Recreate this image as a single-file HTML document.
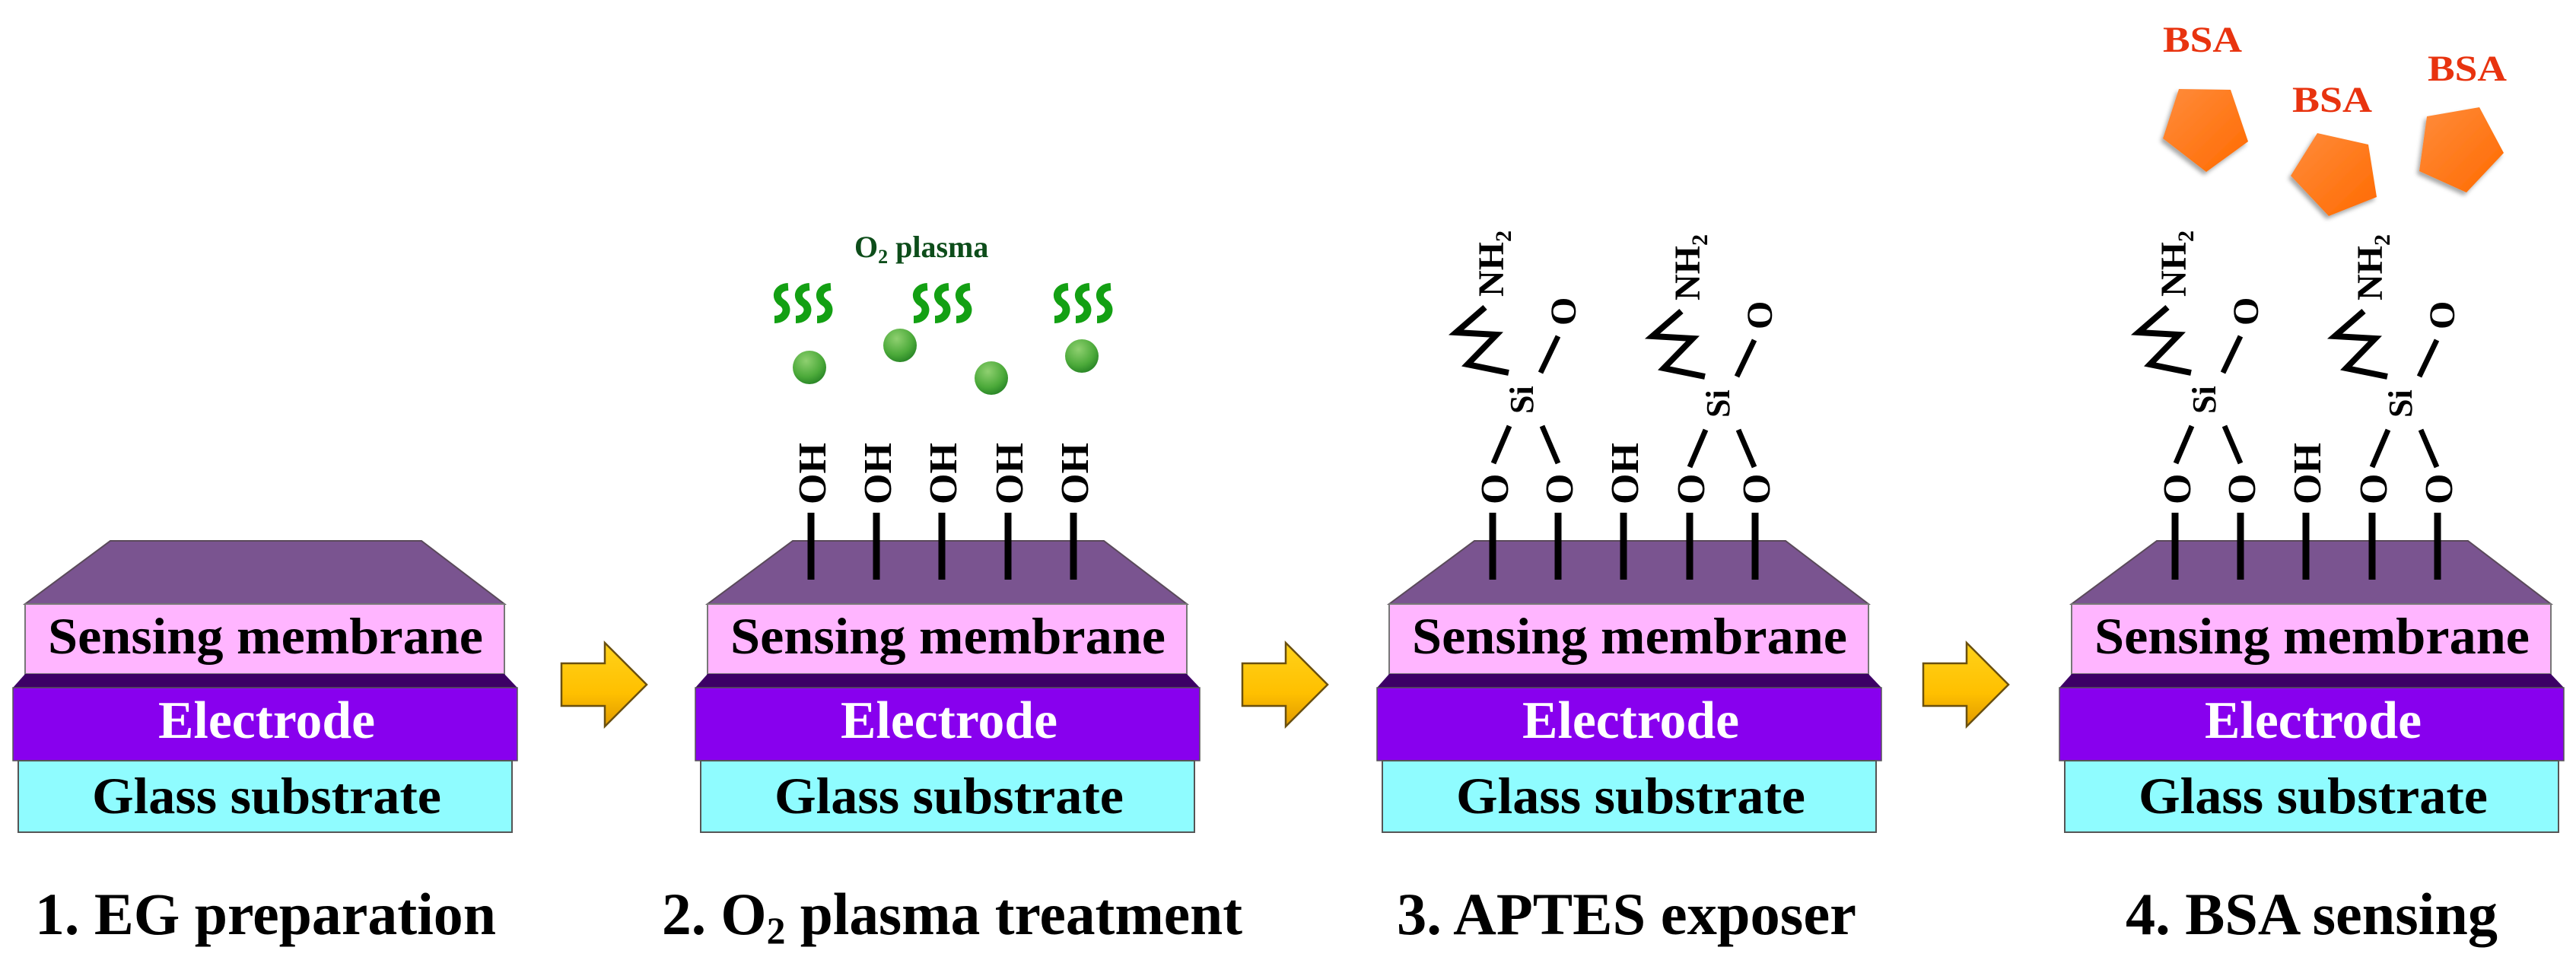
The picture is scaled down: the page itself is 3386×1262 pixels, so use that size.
<!DOCTYPE html>
<html><head><meta charset="utf-8"><style>
html,body{margin:0;padding:0;background:#fff;}
svg{display:block;}
svg text{font-family:"Liberation Serif","Times New Roman","DejaVu Serif",serif;font-weight:bold;}
</style></head><body>
<svg width="3386" height="1262" viewBox="0 0 3386 1262" xmlns="http://www.w3.org/2000/svg" font-family="Liberation Serif, Times New Roman, DejaVu Serif, serif" font-weight="bold">
<defs>
<linearGradient id="ar" x1="0" y1="0" x2="0" y2="1"><stop offset="0" stop-color="#ffd21a"/><stop offset="0.6" stop-color="#ffc000"/><stop offset="1" stop-color="#e09a00"/></linearGradient>
<radialGradient id="gb" cx="0.4" cy="0.3" r="0.8"><stop offset="0" stop-color="#8fd070"/><stop offset="0.6" stop-color="#4caa3a"/><stop offset="1" stop-color="#1e7a20"/></radialGradient>
<linearGradient id="og" x1="0" y1="0" x2="1" y2="1"><stop offset="0" stop-color="#ff8c3c"/><stop offset="1" stop-color="#ff6a00"/></linearGradient>
<filter id="sh" x="-20%" y="-20%" width="150%" height="150%"><feDropShadow dx="-3" dy="4" stdDeviation="3" flood-color="#000" flood-opacity="0.35"/></filter>
<g id="stack">
<polygon points="145,711 554,711 663,794 33,794" fill="#7a5490" stroke="#5a4a5a" stroke-width="2"/>
<rect x="33" y="794" width="630" height="92" fill="#ffb5ff" stroke="#777" stroke-width="2"/>
<polygon points="33,886 663,886 680,904 17,904" fill="#3d0066"/>
<rect x="17" y="904" width="663" height="96" fill="#8800ee" stroke="#555" stroke-width="1.5"/>
<rect x="24" y="1000" width="649" height="94" fill="#8ffcff" stroke="#555" stroke-width="2"/>
<text x="63" y="859" font-size="68" textLength="572" lengthAdjust="spacingAndGlyphs">Sensing membrane</text>
<text x="208" y="970" font-size="70" fill="#fff" textLength="285" lengthAdjust="spacingAndGlyphs">Electrode</text>
<text x="121" y="1069" font-size="68" textLength="459" lengthAdjust="spacingAndGlyphs">Glass substrate</text>
</g>
<g id="arrow"><polygon points="738,872 795,872 795,845 850,900 795,955 795,928 738,928" fill="url(#ar)" stroke="#6a5010" stroke-width="2.5"/></g>
<g id="sticks" stroke="#000" stroke-width="9">
<line x1="169" y1="674" x2="169" y2="762"/><line x1="255" y1="674" x2="255" y2="762"/><line x1="341" y1="674" x2="341" y2="762"/><line x1="428" y1="674" x2="428" y2="762"/><line x1="514" y1="674" x2="514" y2="762"/>
</g>
<g id="mol">
<g stroke="#000" stroke-width="7" fill="none" stroke-linecap="butt">
<line x1="170" y1="609" x2="191" y2="560"/><line x1="255" y1="609" x2="234" y2="560"/>
<line x1="232" y1="490" x2="255" y2="442"/>
<polyline points="190,490 136,479 174,440 121,437 159,404" stroke-width="8"/>
</g>
<text transform="translate(222,544) rotate(-90)" font-size="44">Si</text>
<text transform="translate(278,428) rotate(-90)" font-size="48">O</text>
<text transform="translate(183,390) rotate(-90)" font-size="48">NH<tspan font-size="30" dy="10">2</tspan></text>
</g>
<path id="sq" d="M1036,377 C1020,378 1018,392 1028,398 C1038,404 1034,420 1018,420" fill="none" stroke="#13a013" stroke-width="10"/>
</defs>

<use href="#stack"/>
<use href="#stack" x="897"/>
<use href="#stack" x="1793"/>
<use href="#stack" x="2690"/>

<use href="#arrow"/>
<use href="#arrow" x="895"/>
<use href="#arrow" x="1790"/>

<!-- Stack 2 -->
<use href="#sticks" x="897"/>
<g font-size="52">
<text transform="translate(1085,663) rotate(-90)">OH</text>
<text transform="translate(1171,663) rotate(-90)">OH</text>
<text transform="translate(1257,663) rotate(-90)">OH</text>
<text transform="translate(1344,663) rotate(-90)">OH</text>
<text transform="translate(1430,663) rotate(-90)">OH</text>
</g>
<circle cx="1064" cy="483" r="22" fill="url(#gb)"/>
<circle cx="1183" cy="454" r="22" fill="url(#gb)"/>
<circle cx="1303" cy="497" r="22" fill="url(#gb)"/>
<circle cx="1422" cy="468" r="22" fill="url(#gb)"/>
<use href="#sq"/><use href="#sq" x="28"/><use href="#sq" x="56"/>
<use href="#sq" x="183"/><use href="#sq" x="211"/><use href="#sq" x="239"/>
<use href="#sq" x="368"/><use href="#sq" x="396"/><use href="#sq" x="424"/>
<text x="1123" y="338" font-size="40" fill="#0d4d1a">O<tspan font-size="26" dy="8">2</tspan><tspan dy="-8"> plasma</tspan></text>

<!-- Stack 3 & 4 -->
<g id="s3">
<use href="#sticks" x="1793"/>
<g font-size="52">
<text transform="translate(1982,663) rotate(-90)">O</text>
<text transform="translate(2067,663) rotate(-90)">O</text>
<text transform="translate(2153,663) rotate(-90)">OH</text>
<text transform="translate(2240,663) rotate(-90)">O</text>
<text transform="translate(2326,663) rotate(-90)">O</text>
</g>
<use href="#mol" x="1793"/>
<use href="#mol" x="2051" y="5"/>
</g>
<use href="#s3" x="897"/>

<!-- BSA -->
<g filter="url(#sh)" fill="url(#og)">
<polygon points="2864,117 2932,118 2955,186 2900,226 2843,182"/>
<polygon points="3046,175 3113,190 3124,259 3061,284 3011,231"/>
<polygon points="3190,153 3259,141 3291,201 3242,253 3180,225"/>
</g>
<g fill="#e8330f" font-size="48">
<text x="2843" y="68" textLength="104" lengthAdjust="spacingAndGlyphs">BSA</text>
<text x="3013" y="147" textLength="105" lengthAdjust="spacingAndGlyphs">BSA</text>
<text x="3191" y="106" textLength="104" lengthAdjust="spacingAndGlyphs">BSA</text>
</g>

<!-- Bottom labels -->
<g font-size="78">
<text x="46" y="1228" textLength="606" lengthAdjust="spacingAndGlyphs">1. EG preparation</text>
<text x="870" y="1228" textLength="763" lengthAdjust="spacingAndGlyphs">2. O<tspan font-size="50" dy="12">2</tspan><tspan dy="-12"> plasma treatment</tspan></text>
<text x="1836" y="1228" textLength="604" lengthAdjust="spacingAndGlyphs">3. APTES exposer</text>
<text x="2794" y="1228" textLength="489" lengthAdjust="spacingAndGlyphs">4. BSA sensing</text>
</g>
</svg>
</body></html>
